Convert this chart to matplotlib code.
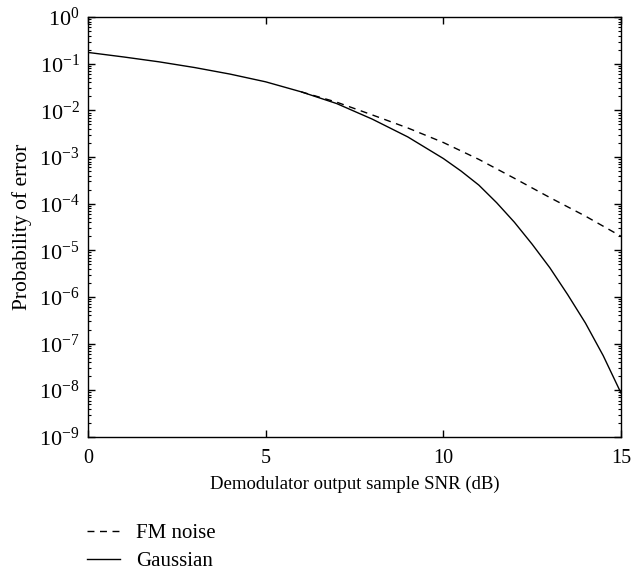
import numpy as np
import matplotlib
matplotlib.use("Agg")
import matplotlib.pyplot as plt
from matplotlib.ticker import LogLocator, NullFormatter, FixedLocator

plt.rcParams["font.family"] = "Liberation Serif"
plt.rcParams["mathtext.fontset"] = "stix"

# Gaussian noise curve (probability of error vs SNR in dB)
snr_gauss = [0, 1, 2, 3, 4, 5, 6, 7, 8, 9, 10, 10.5, 11, 11.5, 12, 12.5, 13, 13.5, 14, 14.5, 15]
pe_gauss = [1.75e-1, 1.4e-1, 1.1e-1, 8.3e-2, 6.0e-2, 4.1e-2, 2.5e-2, 1.4e-2, 6.5e-3, 2.7e-3,
            9.3e-4, 5.0e-4, 2.5e-4, 1.05e-4, 4.0e-5, 1.35e-5, 4.2e-6, 1.12e-6, 2.75e-7, 5.5e-8, 8.7e-9]

# FM noise curve
snr_fm = [6, 7, 8, 9, 10, 11, 12, 13, 14, 15]
pe_fm = [2.5e-2, 1.5e-2, 8.0e-3, 4.2e-3, 2.05e-3, 8.9e-4, 3.5e-4, 1.35e-4, 5.4e-5, 2.0e-5]

fig = plt.figure(figsize=(6.33, 5.71), dpi=100)
ax = fig.add_axes([0.139, 0.235, 0.842, 0.735])

ax.semilogy(snr_fm, pe_fm, color="black", linestyle=(0, (5, 4)), linewidth=1.0, label="FM noise")
ax.semilogy(snr_gauss, pe_gauss, color="black", linestyle="-", linewidth=1.0, label="Gaussian")

ax.set_xlim(0, 15)
ax.set_ylim(1e-9, 1e0)
ax.xaxis.set_major_locator(FixedLocator([0, 5, 10, 15]))
ax.yaxis.set_major_locator(LogLocator(base=10, numticks=20))
ax.yaxis.set_minor_locator(LogLocator(base=10, subs=np.arange(2, 10), numticks=20))
ax.yaxis.set_minor_formatter(NullFormatter())

ax.tick_params(which="both", direction="in", top=True, right=True)
ax.tick_params(which="major", length=5, width=1)
ax.tick_params(which="minor", length=2.5, width=0.8)
ax.tick_params(axis="x", labelsize=14.5, pad=8.5)
ax.tick_params(axis="y", labelsize=16, pad=6)
for s in ax.spines.values():
    s.set_linewidth(1.0)

ax.set_xlabel("Demodulator output sample SNR (dB)", fontsize=13.5, labelpad=6)
ax.set_ylabel("Probability of error", fontsize=15.5, labelpad=5)

fig.legend(loc="upper left", bbox_to_anchor=(0.124, 0.098), frameon=False, fontsize=15,
           handlelength=1.6, handletextpad=0.75, labelspacing=0.4, borderaxespad=0)

fig.savefig("out.png", dpi=100)
